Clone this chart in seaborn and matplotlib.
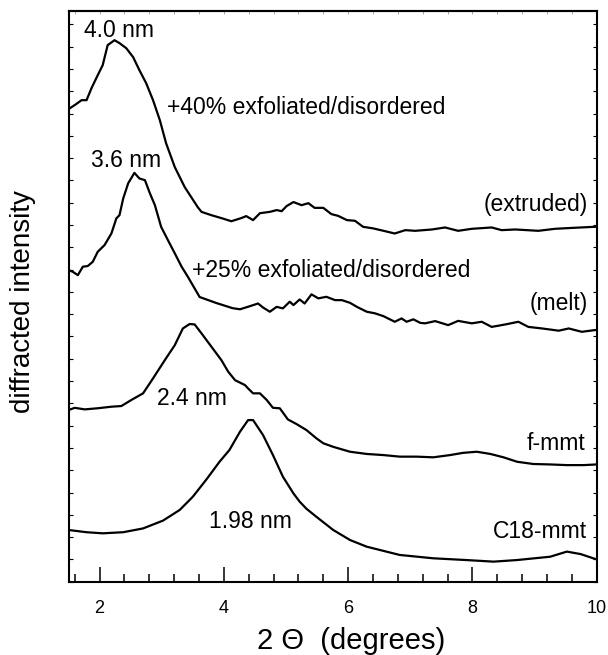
import matplotlib
matplotlib.use("Agg")
import matplotlib.pyplot as plt
from matplotlib.ticker import MultipleLocator, NullFormatter
import seaborn as sns
import pandas as pd

# ---- data (2-theta in degrees, intensity in arbitrary offset units) ----
extruded_x = [1.50, 1.60, 1.71, 1.79, 1.87, 1.97, 2.05, 2.13, 2.24, 2.32, 2.43, 2.54, 2.64, 2.75,
              2.86, 2.97, 3.07, 3.21, 3.37, 3.58, 3.64, 3.80, 3.96, 4.12, 4.28, 4.36, 4.47, 4.58,
              4.74, 4.85, 4.93, 5.01, 5.12, 5.25, 5.36, 5.46, 5.60, 5.73, 5.84, 5.98, 6.11, 6.24,
              6.40, 6.57, 6.75, 6.92, 7.08, 7.35, 7.56, 7.77, 7.99, 8.31, 8.47, 8.69, 9.06, 9.33,
              9.60, 9.97, 10.0]
extruded_y = [21.20, 21.38, 21.60, 21.60, 22.14, 22.72, 23.17, 24.07, 24.29, 24.16, 23.93, 23.53,
              22.95, 22.36, 21.60, 20.70, 19.67, 18.60, 17.70, 16.80, 16.59, 16.44, 16.31, 16.17,
              16.31, 16.40, 16.22, 16.53, 16.59, 16.67, 16.62, 16.85, 17.03, 16.89, 16.98, 16.77,
              16.77, 16.49, 16.41, 16.22, 16.19, 15.92, 15.85, 15.74, 15.62, 15.77, 15.74, 15.80,
              15.89, 15.74, 15.83, 15.89, 15.77, 15.80, 15.74, 15.83, 15.87, 15.92, 15.92]

melt_x = [1.50, 1.57, 1.65, 1.73, 1.81, 1.89, 1.97, 2.08, 2.19, 2.27, 2.32, 2.38, 2.46, 2.56, 2.64,
          2.73, 2.81, 2.89, 2.99, 3.10, 3.21, 3.32, 3.42, 3.61, 3.88, 4.14, 4.26, 4.42, 4.55, 4.63,
          4.74, 4.85, 4.95, 5.06, 5.12, 5.22, 5.30, 5.41, 5.52, 5.65, 5.79, 5.90, 6.03, 6.14, 6.30,
          6.43, 6.57, 6.75, 6.86, 6.94, 7.05, 7.16, 7.24, 7.40, 7.61, 7.77, 7.99, 8.15, 8.31, 8.53,
          8.74, 8.90, 9.12, 9.39, 9.55, 9.76, 9.98]
melt_y = [13.98, 13.90, 13.75, 14.13, 14.16, 14.35, 14.80, 15.10, 15.62, 16.30, 16.44, 17.19, 17.87,
          18.34, 18.09, 18.01, 17.42, 16.89, 15.92, 15.32, 14.73, 14.13, 13.68, 12.77, 12.50, 12.27,
          12.22, 12.36, 12.48, 12.30, 12.11, 12.33, 12.26, 12.56, 12.41, 12.66, 12.48, 12.89, 12.71,
          12.78, 12.63, 12.63, 12.51, 12.33, 12.11, 12.04, 11.91, 11.66, 11.81, 11.66, 11.77, 11.61,
          11.59, 11.69, 11.51, 11.70, 11.59, 11.66, 11.43, 11.54, 11.66, 11.43, 11.36, 11.26, 11.36,
          11.21, 11.29]

fmmt_x = [1.50, 1.60, 1.76, 1.97, 2.19, 2.35, 2.51, 2.70, 2.86, 3.05, 3.21, 3.34, 3.45, 3.53, 3.64,
          3.80, 3.96, 4.07, 4.18, 4.34, 4.39, 4.47, 4.58, 4.69, 4.79, 4.90, 5.03, 5.17, 5.33, 5.49,
          5.60, 5.76, 6.03, 6.30, 6.57, 6.83, 7.10, 7.37, 7.64, 7.85, 8.07, 8.29, 8.50, 8.72, 8.98,
          9.25, 9.52, 9.79, 10.0]
fmmt_y = [7.70, 7.80, 7.73, 7.78, 7.85, 7.88, 8.15, 8.45, 9.12, 9.94, 10.61, 11.36, 11.56, 11.54,
          11.14, 10.54, 9.94, 9.42, 9.04, 8.82, 8.67, 8.45, 8.45, 8.15, 7.80, 7.78, 7.28, 7.07, 6.80,
          6.43, 6.21, 6.05, 5.83, 5.73, 5.68, 5.61, 5.61, 5.58, 5.68, 5.78, 5.83, 5.73, 5.58, 5.38,
          5.28, 5.26, 5.23, 5.23, 5.26]

c18_x = [1.50, 1.79, 2.05, 2.38, 2.70, 3.02, 3.29, 3.50, 3.72, 3.93, 4.09, 4.26, 4.39, 4.47, 4.63,
         4.79, 4.95, 5.12, 5.22, 5.33, 5.49, 5.76, 6.03, 6.30, 6.83, 7.37, 7.91, 8.34, 8.71, 9.25,
         9.52, 9.74, 10.0]
c18_y = [2.32, 2.22, 2.17, 2.22, 2.39, 2.74, 3.22, 3.81, 4.59, 5.38, 5.91, 6.73, 7.25, 7.25, 6.58,
         5.68, 4.71, 3.96, 3.59, 3.27, 2.91, 2.32, 1.87, 1.57, 1.20, 1.05, 0.97, 0.90, 0.97, 1.12,
         1.35, 1.24, 1.00]

x_ticks = [2, 4, 6, 8, 10]
x_tick_labels = ["2", "4", "6", "8", "10"]
x_label = "2 \u0398  (degrees)"
y_label = "diffracted intensity"

annotations = ["4.0 nm", "+40% exfoliated/disordered", "3.6 nm", "+25% exfoliated/disordered",
               "(extruded)", "(melt)", "2.4 nm", "f-mmt", "1.98 nm", "C18-mmt"]
# (x, y, horizontal alignment) — layout of the annotations
annot_pos = [(2.31, 24.43, "center"), (3.08, 21.00, "left"), (2.42, 18.60, "center"),
             (3.48, 13.66, "left"), (9.86, 16.62, "right"), (9.86, 12.18, "right"),
             (3.48, 7.92, "center"), (9.82, 5.91, "right"), (4.42, 2.41, "center"),
             (9.84, 1.96, "right")]

# ---- build tidy data ----
frames = []
for name, xs, ys in [("extruded", extruded_x, extruded_y), ("melt", melt_x, melt_y),
                     ("f-mmt", fmmt_x, fmmt_y), ("C18-mmt", c18_x, c18_y)]:
    frames.append(pd.DataFrame({"theta": xs, "intensity": ys, "sample": name}))
df = pd.concat(frames, ignore_index=True)

sns.set_theme(style="ticks")
plt.rcParams['font.family'] = ['Liberation Sans', 'DejaVu Sans']
plt.rcParams['text.color'] = 'black'
plt.rcParams['axes.labelcolor'] = 'black'
plt.rcParams['xtick.color'] = 'black'
plt.rcParams['ytick.color'] = 'black'
plt.rcParams['xtick.labelcolor'] = 'black'

fig = plt.figure(figsize=(6.08, 6.55), dpi=100)
ax = fig.add_axes([0.1127, 0.1119, 0.8687, 0.8713])

sns.lineplot(data=df, x="theta", y="intensity", hue="sample",
             palette=["black"] * 4, estimator=None, sort=False,
             linewidth=1.6, legend=False, ax=ax)

ax.set_xlim(1.5, 10.0)
ax.set_ylim(0, 25.6)

for s in ax.spines.values():
    s.set_linewidth(1.5)
    s.set_color("black")
    s.set_visible(True)

ax.set_xticks(x_ticks)
ax.set_xticklabels(x_tick_labels)
ax.xaxis.set_minor_locator(MultipleLocator(0.4))
ax.yaxis.set_major_locator(MultipleLocator(1))
ax.yaxis.set_major_formatter(NullFormatter())

ax.tick_params(axis="x", which="major", direction="in", length=10.5, width=1.1,
               color="black", labelcolor="black", labelsize=13, pad=13, top=False)
ax.tick_params(axis="x", which="minor", direction="in", length=5.5, width=1.1,
               color="black", top=False)
ax.tick_params(axis="y", which="major", direction="in", length=2.8, width=0.8,
               color="black", left=True, right=True, labelleft=False)

sec = ax.secondary_xaxis("top")
sec.set_xticks([1.6 + 0.4 * i for i in range(22)])
sec.tick_params(direction="in", length=1.8, width=0.6, color="#999999", labeltop=False)
sec.spines["top"].set_linewidth(1.5)

ax.set_xlabel(x_label, fontsize=21, color="black")
ax.xaxis.set_label_coords(0.535, -0.08)
ax.set_ylabel(y_label, fontsize=20, color="black")
ax.yaxis.set_label_coords(-0.062, 0.49)

for txt, (tx, ty, ha) in zip(annotations, annot_pos):
    ax.text(tx, ty, txt, fontsize=16.5, ha=ha, va="baseline", color="black")

fig.savefig("out.png", dpi=100)
